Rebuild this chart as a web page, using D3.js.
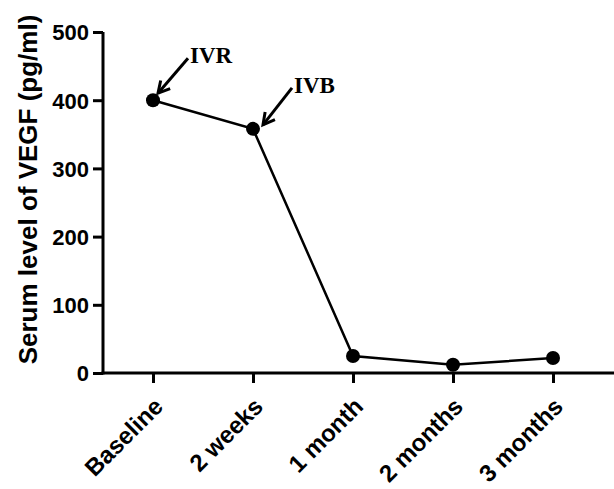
<!DOCTYPE html>
<html>
<head>
<meta charset="utf-8">
<script src="https://cdn.jsdelivr.net/npm/d3@7"></script>
<style>
  body { margin: 0; background: #fff; }
  text { font-family: Arial, "Liberation Sans", sans-serif; font-weight: bold; }
</style>
</head>
<body>
<div id="chart"></div>
<script>
// data
var categories = ["Baseline", "2 weeks", "1 month", "2 months", "3 months"];
var vegf = [400, 358, 25, 12, 22];
var yTicks = [0, 100, 200, 300, 400, 500];
var notes = ["IVR", "IVB"]; // first two time points

var W = 614, H = 489;
var mLeft = 103, mRight = 603, mTop = 32, mBottom = 373;

var svg = d3.select("#chart").append("svg")
  .attr("width", W)
  .attr("height", H);

var x = d3.scalePoint().domain(categories).range([mLeft, mRight]).padding(0.5);
var y = d3.scaleLinear().domain([0, 500]).range([mBottom, mTop]);

// y axis
var yAxis = svg.append("g")
  .attr("transform", "translate(" + mLeft + ",0)")
  .call(d3.axisLeft(y).tickValues(yTicks).tickSize(10).tickSizeOuter(0).tickPadding(4));
yAxis.select(".domain").attr("stroke-width", 3).attr("d", "M0," + (mBottom + 1.5) + "V" + y(500));
yAxis.selectAll(".tick line").attr("stroke-width", 3);
yAxis.selectAll(".tick text").style("font-size", "22px").attr("fill", "#000").attr("dy", "0.36em");

// x axis
var xAxis = svg.append("g")
  .attr("transform", "translate(0," + mBottom + ")")
  .call(d3.axisBottom(x).tickSize(10).tickSizeOuter(0));
xAxis.select(".domain").attr("stroke-width", 3).attr("d", "M" + (mLeft - 1.5) + ",0H" + W);
xAxis.selectAll(".tick line").attr("stroke-width", 3);
xAxis.selectAll(".tick text")
  .style("font-size", "24px")
  .attr("fill", "#000")
  .attr("text-anchor", "end")
  .attr("x", null).attr("y", null).attr("dy", null)
  .attr("transform", "translate(11,35) rotate(-45)");

// y label
svg.append("text")
  .attr("transform", "translate(37," + ((mTop + mBottom) / 2 - 13) + ") rotate(-90)")
  .attr("text-anchor", "middle")
  .style("font-size", "26px")
  .text("Serum level of VEGF (pg/ml)");

// line + points
var line = d3.line()
  .x(function(d, i) { return x(categories[i]); })
  .y(function(d) { return y(d); });

svg.append("path")
  .datum(vegf)
  .attr("fill", "none")
  .attr("stroke", "#000")
  .attr("stroke-width", 2.5)
  .attr("d", line);

svg.selectAll("circle.pt")
  .data(vegf)
  .enter().append("circle")
  .attr("class", "pt")
  .attr("cx", function(d, i) { return x(categories[i]); })
  .attr("cy", function(d) { return y(d); })
  .attr("r", 7)
  .attr("fill", "#000");

// annotations: arrow from label down-left to the point
var arrowTip = [[5, -7], [10, -4]];
var arrowLen = [[30, -35], [29, -37]];
notes.forEach(function(lbl, i) {
  var px = x(categories[i]), py = y(vegf[i]);
  var tx = px + arrowTip[i][0], ty = py + arrowTip[i][1];
  var sx = tx + arrowLen[i][0], sy = ty + arrowLen[i][1];
  var g = svg.append("g");
  g.append("line")
    .attr("x1", sx).attr("y1", sy).attr("x2", tx).attr("y2", ty)
    .attr("stroke", "#000").attr("stroke-width", 3);
  var ang = Math.atan2(sy - ty, sx - tx);
  var hl = 13, spread = 0.5;
  g.append("path")
    .attr("d", "M" + (tx + hl * Math.cos(ang + spread)) + "," + (ty + hl * Math.sin(ang + spread)) +
      "L" + tx + "," + ty +
      "L" + (tx + hl * Math.cos(ang - spread)) + "," + (ty + hl * Math.sin(ang - spread)))
    .attr("fill", "none").attr("stroke", "#000").attr("stroke-width", 3);
  g.append("text")
    .attr("x", sx + 2).attr("y", sy + 5)
    .style("font-family", "'Times New Roman', 'Liberation Serif', serif")
    .style("font-size", "23px")
    .text(lbl);
});
</script>
</body>
</html>
